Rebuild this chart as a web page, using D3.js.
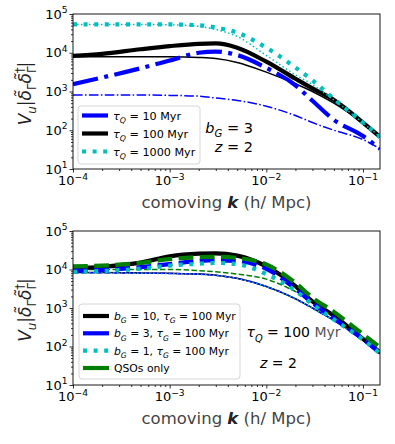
<!DOCTYPE html>
<html><head><meta charset="utf-8">
<script src="https://cdn.jsdelivr.net/npm/d3@7"></script>
<style>body{margin:0;background:#fff} text{white-space:pre}</style>
</head><body><svg id="c" width="395" height="444"></svg>
<script>
// ---------- data ----------
const kVals = [1e-4, 2e-4, 5e-4, 1e-3, 2e-3, 3e-3, 5e-3, 1e-2, 2e-2, 3e-2, 5e-2, 1e-1, 0.15];
const xTickVals = [1e-4, 1e-3, 1e-2, 1e-1];
const xTickExps = ["\u22124", "\u22123", "\u22122", "\u22121"];
const yTickVals = [1e1, 1e2, 1e3, 1e4, 1e5];
const yTickExps = ["1", "2", "3", "4", "5"];

// top panel (b_G = 3, z = 2)
const tau10Total   = [1550, 2290, 3980, 6310, 10000, 10700, 8710, 4070, 1450, 575, 186, 70.8, 33.1];
const tau10Other   = [813, 813, 813, 794, 759, 676, 589, 417, 240, 158, 100, 57.5, 33.1];
const tau100Total  = [8320, 9330, 12300, 14800, 17000, 17400, 13500, 5890, 2140, 1200, 603, 158, 67.6];
const tau100Other  = [7940, 7940, 7940, 7940, 7590, 7080, 5620, 3160, 1580, 1000, 501, 151, 66.1];
const tau1000Total = [53700, 53700, 53700, 53700, 51300, 44700, 33100, 13500, 4170, 1950, 646, 158, 67.6];
const tau1000Other = [53700, 53700, 53700, 52500, 47900, 39800, 26300, 8510, 2690, 1510, 603, 155, 67.6];

// bottom panel (tau_Q = 100 Myr, z = 2)
const bG10Total  = [10500, 11700, 15100, 21900, 25700, 26300, 22900, 12000, 3720, 1480, 631, 158, 70.8];
const bG10Other  = [8320, 8320, 8130, 7940, 7590, 7080, 5890, 3630, 1740, 1000, 479, 148, 66.1];
const bG3Total   = [9330, 9770, 11500, 13800, 16600, 17400, 16600, 10400, 3160, 1350, 537, 155, 67.6];
const bG3Other   = [8200, 8200, 8050, 7900, 7550, 7050, 5850, 3600, 1730, 990, 476, 147, 65.5];
const bG1Total   = [8710, 9120, 10500, 12600, 14100, 14800, 13800, 7590, 2820, 1260, 501, 151, 66.1];
const bG1Other   = [8150, 8150, 8000, 7850, 7500, 7000, 5820, 3580, 1720, 985, 474, 147, 65.3];
const qsoTotal   = [12000, 12600, 14800, 18600, 20900, 21400, 20000, 13500, 4470, 1860, 794, 209, 95.5];
const qsoOther   = [10000, 10000, 10000, 10000, 9330, 8710, 7590, 5620, 2690, 1580, 661, 166, 75.9];

// ---------- helpers ----------
const svg = d3.select("#c");
const FONT = "DejaVu Sans";
const BLUE = "#0000ff", CYAN = "#00bfbf", BLACK = "#000000", GREEN = "#008000";

function rich(textSel, parts, fs) {
  let cur = 0;
  parts.forEach(p => {
    const target = p.sub ? 0.3 * fs : p.sup ? -0.42 * fs : 0;
    const ts = textSel.append("tspan").text(p.t).attr("dy", (target - cur) + "px");
    cur = target;
    if (p.sub || p.sup) ts.attr("font-size", (0.7 * fs) + "px");
    if (p.it) ts.attr("font-style", "italic");
    if (p.bold) ts.attr("font-weight", "bold");
    if (p.dx !== undefined) ts.attr("dx", p.dx);
    if (p.fill) ts.attr("fill", p.fill);
  });
}

const L = 73, R = 380;
const x = d3.scaleLog().domain([1e-4, 0.15]).range([L, R]);

function drawPanel(top, bot, idx, series) {
  const y = d3.scaleLog().domain([10, 1e5]).range([bot, top]);
  const g = svg.append("g");
  const clipId = "clip" + idx;
  svg.append("clipPath").attr("id", clipId).append("rect")
    .attr("x", L).attr("y", top).attr("width", R - L).attr("height", bot - top);

  const line = d3.line().x((d, i) => x(kVals[i])).y(d => y(d)).curve(d3.curveMonotoneX);
  const lg = g.append("g").attr("clip-path", `url(#${clipId})`);
  series.forEach(s => {
    lg.append("path").attr("d", line(s.data)).attr("fill", "none")
      .attr("stroke", s.color).attr("stroke-width", s.w)
      .attr("stroke-dasharray", s.dash || null)
      .attr("stroke-linecap", "butt").attr("stroke-linejoin", "round");
  });

  // x axis
  const xMinor = [];
  for (let e = -4; e <= -1; e++) for (let m = 2; m <= 9; m++) { const v = m * Math.pow(10, e); if (v <= 0.15) xMinor.push(v); }
  g.append("g").attr("transform", `translate(0,${bot})`)
    .call(d3.axisBottom(x).tickValues(xTickVals).tickSize(3.5).tickFormat(() => ""))
    .call(a => a.select(".domain").remove());
  g.append("g").attr("transform", `translate(0,${bot})`)
    .call(d3.axisBottom(x).tickValues(xMinor).tickSize(2).tickFormat(() => ""))
    .call(a => a.select(".domain").remove());
  xTickVals.forEach((v, i) => {
    const t = g.append("text").attr("x", x(v)).attr("y", bot + 16)
      .attr("text-anchor", "middle").attr("font-family", FONT).attr("font-size", "13px");
    rich(t, [{t: "10"}, {t: xTickExps[i], sup: true}], 13);
  });

  // y axis
  const yMinor = [];
  for (let e = 1; e <= 4; e++) for (let m = 2; m <= 9; m++) yMinor.push(m * Math.pow(10, e));
  g.append("g").attr("transform", `translate(${L},0)`)
    .call(d3.axisLeft(y).tickValues(yTickVals).tickSize(3.5).tickFormat(() => ""))
    .call(a => a.select(".domain").remove());
  g.append("g").attr("transform", `translate(${L},0)`)
    .call(d3.axisLeft(y).tickValues(yMinor).tickSize(2).tickFormat(() => ""))
    .call(a => a.select(".domain").remove());
  yTickVals.forEach((v, i) => {
    const t = g.append("text").attr("x", L - 5.5).attr("y", y(v) + 4.6)
      .attr("text-anchor", "end").attr("font-family", FONT).attr("font-size", "13px");
    rich(t, [{t: "10"}, {t: yTickExps[i], sup: true}], 13);
  });

  g.selectAll(".tick line").attr("stroke", "#000").attr("stroke-width", 0.8);

  // frame
  g.append("rect").attr("x", L).attr("y", top).attr("width", R - L).attr("height", bot - top)
    .attr("fill", "none").attr("stroke", "#000").attr("stroke-width", 0.9);

  // y label
  const yl = g.append("text").attr("transform", `translate(31,${(top + bot) / 2 + 2}) rotate(-90)`)
    .attr("text-anchor", "middle").attr("font-family", FONT).attr("font-size", "17px").attr("fill", "#222");
  rich(yl, [{t: "V", it: true}, {t: "u", it: true, sub: true}, {t: "|"}, {t: "\u03b4\u0303", it: true},
            {t: "\u0393", sub: true}, {t: "\u03b4\u0303", it: true}, {t: "\u0393", sub: true},
            {t: "\u2020", sup: true, dx: -7}, {t: "|"}], 17);

  // x label
  const xl = g.append("text").attr("x", (L + R) / 2).attr("y", bot + 38.5)
    .attr("text-anchor", "middle").attr("font-family", FONT).attr("font-size", "16.5px").attr("fill", "#444");
  rich(xl, [{t: "comoving "}, {t: "k", it: true, bold: true, fill: "#222"}, {t: " (h/ Mpc)"}], 16.5);
  return y;
}

function legend(x0, y0, w, h, rows, fs) {
  svg.append("rect").attr("x", x0).attr("y", y0).attr("width", w).attr("height", h)
    .attr("rx", 3).attr("fill", "#fff").attr("fill-opacity", 0.8)
    .attr("stroke", "#cccccc").attr("stroke-width", 0.8);
  rows.forEach(r => {
    svg.append("line").attr("x1", x0 + 4).attr("x2", x0 + 30).attr("y1", r.y).attr("y2", r.y)
      .attr("stroke", r.color).attr("stroke-width", r.w).attr("stroke-dasharray", r.dash || null);
    const t = svg.append("text").attr("x", x0 + 35).attr("y", r.y + 4)
      .attr("font-family", FONT).attr("font-size", fs + "px").attr("fill", "#000");
    rich(t, r.parts, fs);
  });
}

// ---------- top panel ----------
const TW = 4.2, tw = 1.5;
const dashDotThick = "25.6 6.4 4 6.4", dashDotThin = "9.6 2.4 1.5 2.4";
const dotThick = "4 6.6", dotThin = "1.5 2.5";
const dashThick = "14.8 6.4", dashThin = "5.5 2.4";

drawPanel(14, 169, 0, [
  {data: tau100Total, color: BLACK, w: TW},
  {data: tau100Other, color: BLACK, w: tw},
  {data: tau10Other, color: BLUE, w: tw, dash: dashDotThin},
  {data: tau10Total, color: BLUE, w: TW, dash: dashDotThick},
  {data: tau1000Other, color: CYAN, w: tw, dash: dotThin},
  {data: tau1000Total, color: CYAN, w: TW, dash: dotThick}
]);

legend(78, 106, 122, 58, [
  {y: 115.5, color: BLUE, w: TW, parts: [{t: "\u03c4", it: true}, {t: "Q", it: true, sub: true}, {t: " = 10 Myr"}]},
  {y: 133.5, color: BLACK, w: TW, parts: [{t: "\u03c4", it: true}, {t: "Q", it: true, sub: true}, {t: " = 100 Myr"}]},
  {y: 151.5, color: CYAN, w: TW, dash: dotThick, parts: [{t: "\u03c4", it: true}, {t: "Q", it: true, sub: true}, {t: " = 1000 Myr"}]}
], 11.2);

const a1 = svg.append("text").attr("x", 253).attr("y", 132.5).attr("text-anchor", "end")
  .attr("font-family", FONT).attr("font-size", "14.5px");
rich(a1, [{t: "b", it: true}, {t: "G", it: true, sub: true}, {t: " = 3"}], 14.5);
const a2 = svg.append("text").attr("x", 253).attr("y", 151.7).attr("text-anchor", "end")
  .attr("font-family", FONT).attr("font-size", "14.5px");
rich(a2, [{t: "z", it: true}, {t: " = 2"}], 14.5);

// ---------- bottom panel ----------
drawPanel(231, 385, 1, [
  {data: bG10Other, color: BLACK, w: tw},
  {data: bG3Other, color: BLUE, w: tw, dash: dashThin},
  {data: bG1Other, color: CYAN, w: tw, dash: dotThin},
  {data: qsoOther, color: GREEN, w: tw, dash: dashThin},
  {data: bG10Total, color: BLACK, w: TW},
  {data: bG3Total, color: BLUE, w: TW, dash: dashThick},
  {data: bG1Total, color: CYAN, w: TW, dash: dotThick},
  {data: qsoTotal, color: GREEN, w: TW, dash: dashThick}
]);

legend(79, 304, 161, 75, [
  {y: 316, color: BLACK, w: TW, parts: [{t: "b", it: true}, {t: "G", it: true, sub: true}, {t: " = 10, "}, {t: "\u03c4", it: true}, {t: "G", it: true, sub: true}, {t: " = 100 Myr"}]},
  {y: 333.3, color: BLUE, w: TW, parts: [{t: "b", it: true}, {t: "G", it: true, sub: true}, {t: " = 3, "}, {t: "\u03c4", it: true}, {t: "G", it: true, sub: true}, {t: " = 100 Myr"}]},
  {y: 350.7, color: CYAN, w: TW, dash: dotThick, parts: [{t: "b", it: true}, {t: "G", it: true, sub: true}, {t: " = 1, "}, {t: "\u03c4", it: true}, {t: "G", it: true, sub: true}, {t: " = 100 Myr"}]},
  {y: 368, color: GREEN, w: TW, parts: [{t: "QSOs only"}]}
], 10.8);

const b1 = svg.append("text").attr("x", 246.5).attr("y", 337.3)
  .attr("font-family", FONT).attr("font-size", "14px");
rich(b1, [{t: "\u03c4", it: true}, {t: "Q", it: true, sub: true}, {t: " = 100 "}, {t: "Myr", fill: "#555"}], 14);
const b2 = svg.append("text").attr("x", 260).attr("y", 368.3)
  .attr("font-family", FONT).attr("font-size", "14px");
rich(b2, [{t: "z", it: true}, {t: " = 2"}], 14);
</script>
</body></html>
